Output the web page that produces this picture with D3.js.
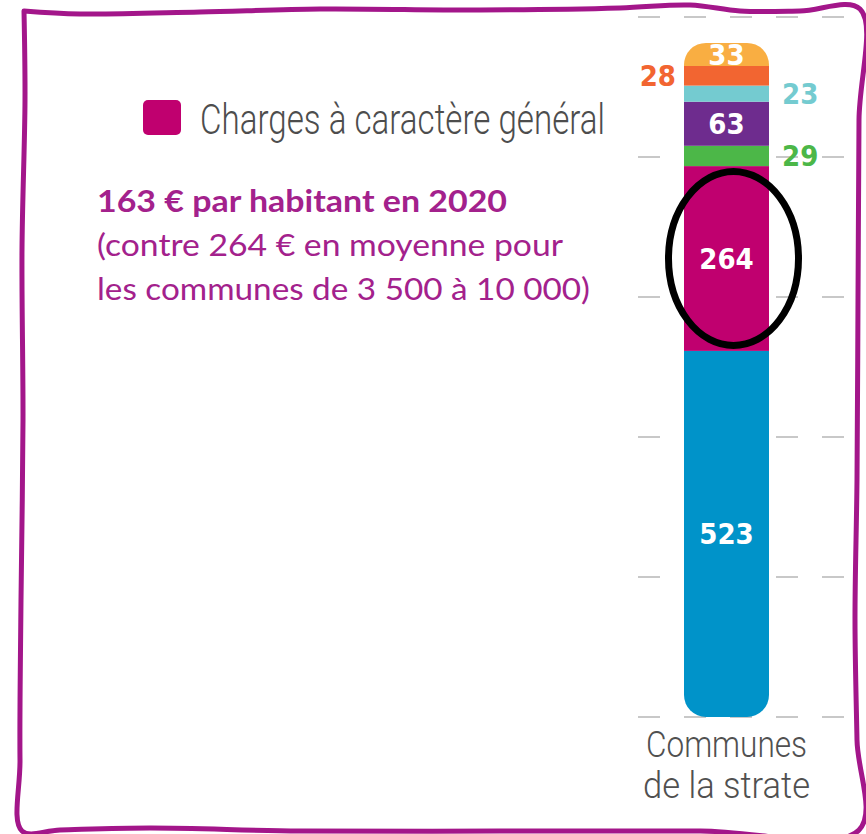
<!DOCTYPE html>
<html lang="fr">
<head>
<meta charset="utf-8">
<script src="https://cdn.jsdelivr.net/npm/d3@7/dist/d3.min.js"></script>
<style>
  html, body { margin: 0; padding: 0; background: #fff; }
  svg { display: block; }
</style>
</head>
<body>
<svg id="chart" width="866" height="834"></svg>
<script>
// ---- Data ----
const categories = ["Communes de la strate"];
const categoryLines = ["Communes", "de la strate"];
// stacked from bottom to top (€ per inhabitant)
const seriesKeys = ["personnel", "general", "gestion", "participations", "subventions", "financieres", "autres"];
const seriesValues = [523, 264, 29, 63, 23, 28, 33];
const seriesColors = ["#0093c9", "#c0006f", "#4cb748", "#6e2c8e", "#74cbd0", "#f26531", "#f9ae42"];
const gridTicks = [0, 200, 400, 600, 800, 1000];
const legendLabel = "Charges à caractère général";
const legendKey = "general";
const noteLines = [
  "163 € par habitant en 2020",
  "(contre 264 € en moyenne pour",
  "les communes de 3 500 à 10 000)"
];

// where each value label sits relative to its segment
const labelSide = { personnel: "inside", general: "inside", gestion: "right", participations: "inside",
                    subventions: "right", financieres: "left", autres: "inside" };

const svg = d3.select("#chart");

// ---- Scales ----
const y = d3.scaleLinear().domain([0, 1000]).range([717, 17]);
const x = d3.scaleBand().domain(categories).range([684, 769]).padding(0);

const row = { category: categories[0] };
seriesKeys.forEach((k, i) => { row[k] = seriesValues[i]; });
const stacked = d3.stack().keys(seriesKeys)([row]);
const colorOf = d3.scaleOrdinal().domain(seriesKeys).range(seriesColors);

// ---- Dashed grid lines ----
svg.append("g")
  .selectAll("line")
  .data(gridTicks)
  .join("line")
  .attr("x1", 638).attr("x2", 844)
  .attr("y1", d => y(d)).attr("y2", d => y(d))
  .attr("stroke", "#c8c8c8")
  .attr("stroke-width", 2)
  .attr("stroke-dasharray", "22,24");

// ---- Stacked bar with rounded ends ----
const total = d3.sum(seriesValues);
const defs = svg.append("defs");
defs.append("clipPath").attr("id", "barClip")
  .append("rect")
  .attr("x", x(categories[0]))
  .attr("y", y(total))
  .attr("width", x.bandwidth())
  .attr("height", y(0) - y(total))
  .attr("rx", 22).attr("ry", 22);

const barG = svg.append("g").attr("clip-path", "url(#barClip)");
barG.selectAll("rect")
  .data(stacked)
  .join("rect")
  .attr("x", x(categories[0]))
  .attr("y", s => y(s[0][1]))
  .attr("width", x.bandwidth())
  .attr("height", s => y(s[0][0]) - y(s[0][1]))
  .attr("fill", s => colorOf(s.key));

// ---- Value labels ----
const x0 = x(categories[0]);
const x1 = x0 + x.bandwidth();
const xc = x0 + x.bandwidth() / 2;
svg.append("g")
  .selectAll("text")
  .data(stacked)
  .join("text")
  .attr("x", s => labelSide[s.key] === "left" ? x0 - 8 : labelSide[s.key] === "right" ? x1 + 13 : xc)
  .attr("y", s => (y(s[0][0]) + y(s[0][1])) / 2)
  .attr("dy", "0.36em")
  .attr("text-anchor", s => labelSide[s.key] === "left" ? "end" : labelSide[s.key] === "right" ? "start" : "middle")
  .attr("fill", s => labelSide[s.key] === "inside" ? "#ffffff" : colorOf(s.key))
  .style("font-family", "'DejaVu Sans', sans-serif")
  .style("font-stretch", "condensed")
  .style("font-weight", "bold")
  .style("font-size", "29px")
  .text(s => s[0][1] - s[0][0]);

// ---- Highlight ring around the general charges segment ----
const hl = stacked.find(s => s.key === legendKey);
svg.append("ellipse")
  .attr("cx", xc + 7)
  .attr("cy", (y(hl[0][0]) + y(hl[0][1])) / 2)
  .attr("rx", 65).attr("ry", 87)
  .attr("fill", "none")
  .attr("stroke", "#000")
  .attr("stroke-width", 7);

// ---- Category label under the bar ----
const catText = svg.append("text")
  .attr("text-anchor", "middle")
  .attr("fill", "#505050")
  .style("font-family", "Roboto, sans-serif")
  .style("font-weight", 300)
  .style("font-size", "36px");
catText.selectAll("tspan")
  .data(categoryLines)
  .join("tspan")
  .attr("x", xc)
  .attr("y", (d, i) => 757 + i * 41)
  .attr("textLength", (d, i) => [161, 167][i])
  .attr("lengthAdjust", "spacingAndGlyphs")
  .text(d => d);

// ---- Legend ----
svg.append("rect")
  .attr("x", 143).attr("y", 100)
  .attr("width", 38).attr("height", 35)
  .attr("rx", 5)
  .attr("fill", colorOf(legendKey));
svg.append("text")
  .attr("x", 200).attr("y", 134)
  .attr("fill", "#4d4d4d")
  .attr("textLength", 405)
  .attr("lengthAdjust", "spacingAndGlyphs")
  .style("font-family", "Roboto, sans-serif")
  .style("font-weight", 300)
  .style("font-size", "42px")
  .text(legendLabel);

// ---- Note ----
const noteWidths = [410, 466, 493];
svg.append("g")
  .selectAll("text")
  .data(noteLines)
  .join("text")
  .attr("x", 97)
  .attr("y", (d, i) => 212 + i * 44)
  .attr("fill", "#a3218c")
  .attr("textLength", (d, i) => noteWidths[i])
  .attr("lengthAdjust", "spacingAndGlyphs")
  .style("font-family", "Lato, sans-serif")
  .style("font-weight", (d, i) => i === 0 ? 700 : 400)
  .style("font-size", "30px")
  .text(d => d);

// ---- Hand-drawn frame ----
const frame = [
  [24, 11], [80, 14], [200, 12], [320, 9], [480, 10], [620, 8], [690, 5], [740, 11], [800, 11], [860, 9],
  [859, 120], [858, 300], [857, 480], [855, 620], [857, 740], [859, 830],
  [700, 831], [500, 831], [300, 831], [150, 828], [60, 830], [22, 831],
  [20, 760], [21, 600], [23, 420], [22, 250], [25, 100], [24, 11]
];
svg.append("path")
  .attr("d", d3.line().curve(d3.curveCatmullRom.alpha(0.5))(frame))
  .attr("fill", "none")
  .attr("stroke", "#a3168a")
  .attr("stroke-width", 5)
  .attr("stroke-linejoin", "round")
  .attr("stroke-linecap", "round");
</script>
</body>
</html>
